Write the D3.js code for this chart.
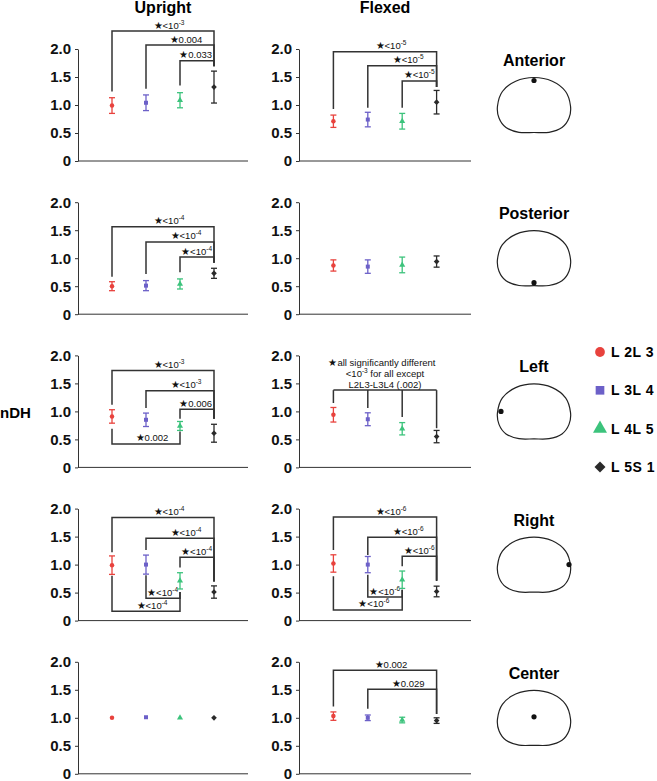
<!doctype html>
<html lang="en">
<head>
<meta charset="utf-8">
<title>nDH by level</title>
<script src="https://cdn.jsdelivr.net/npm/d3@7/dist/d3.min.js"></script>
<style>
  body { margin: 0; background: #fff; }
  svg { font-family: "Liberation Sans", Arial, Helvetica, sans-serif; }
  .tick text { font-size: 15px; font-weight: bold; fill: #111; }
  .axis path, .axis line { stroke: #333; }
  .bracket { fill: none; stroke: #333; stroke-width: 1.5px; }
  .note { font-size: 9.5px; fill: #111; }
</style>
</head>
<body>
<svg width="657" height="781"></svg>
<script>
// levels, colours, panels
var levels = ["L 2L 3", "L 3L 4", "L 4L 5", "L 5S 1"];
var colors = ["#e8423d", "#6c60c8", "#3cc37c", "#2a2a2a"];
var conditions = ["Upright", "Flexed"];
var regions = ["Anterior", "Posterior", "Left", "Right", "Center"];
var yTicks = [0, 0.5, 1.0, 1.5, 2.0];

// means / error bars, one row per region
var uprightMeans = [
    [0.99, 1.04, 1.085, 1.32],
    [0.50, 0.51, 0.54, 0.73],
    [0.91, 0.85, 0.74, 0.61],
    [0.99, 1.00, 0.71, 0.51],
    [1.00, 1.01, 1.00, 1.00]
];
var uprightErrors = [
    [0.14, 0.14, 0.135, 0.285],
    [0.08, 0.09, 0.09, 0.09],
    [0.12, 0.12, 0.08, 0.16],
    [0.165, 0.17, 0.145, 0.11],
    [0, 0, 0, 0]
];
var flexedMeans = [
    [0.71, 0.74, 0.71, 1.05],
    [0.87, 0.85, 0.88, 0.94],
    [0.94, 0.86, 0.69, 0.55],
    [1.02, 1.00, 0.73, 0.52],
    [1.03, 1.00, 0.96, 0.95]
];
var flexedErrors = [
    [0.11, 0.13, 0.14, 0.21],
    [0.10, 0.12, 0.14, 0.10],
    [0.13, 0.115, 0.11, 0.11],
    [0.155, 0.145, 0.155, 0.095],
    [0.075, 0.05, 0.05, 0.05]
];

// significance brackets: a/b = levels joined, at = bar height, da/db = where the legs stop
var uprightBrackets = [
    [{a: 0, b: 3, at: 2.32, da: 1.24, db: 1.69, p: "<10", e: "-3"},
     {a: 1, b: 3, at: 2.07, da: 1.29, db: 1.69, p: "0.004"},
     {a: 2, b: 3, at: 1.79, da: 1.35, db: 1.69, p: "0.033"}],
    [{a: 0, b: 3, at: 1.56, da: 0.67, db: 0.92, p: "<10", e: "-4"},
     {a: 1, b: 3, at: 1.29, da: 0.72, db: 0.92, p: "<10", e: "-4"},
     {a: 2, b: 3, at: 1.02, da: 0.75, db: 0.92, p: "<10", e: "-4"}],
    [{a: 0, b: 3, at: 1.73, da: 1.12, db: 0.87, p: "<10", e: "-3"},
     {a: 1, b: 3, at: 1.37, da: 1.06, db: 0.87, p: "<10", e: "-3"},
     {a: 2, b: 3, at: 1.04, da: 0.87, db: 0.87, p: "0.006"},
     {a: 0, b: 2, at: 0.42, da: 0.69, db: 0.64, p: "0.002"}],
    [{a: 0, b: 3, at: 1.84, da: 1.22, db: 0.70, p: "<10", e: "-4"},
     {a: 1, b: 3, at: 1.47, da: 1.26, db: 0.70, p: "<10", e: "-4"},
     {a: 2, b: 3, at: 1.13, da: 0.95, db: 0.70, p: "<10", e: "-4"},
     {a: 1, b: 2, at: 0.40, da: 0.81, db: 0.51, p: "<10", e: "-4"},
     {a: 0, b: 2, at: 0.165, da: 0.80, db: 0.51, p: "<10", e: "-4"}],
    []
];
var flexedBrackets = [
    [{a: 0, b: 3, at: 1.95, da: 0.93, db: 1.32, p: "<10", e: "-5"},
     {a: 1, b: 3, at: 1.70, da: 0.95, db: 1.32, p: "<10", e: "-5"},
     {a: 2, b: 3, at: 1.43, da: 0.95, db: 1.32, p: "<10", e: "-5"}],
    [],
    [],
    [{a: 0, b: 3, at: 1.85, da: 1.26, db: 0.71, p: "<10", e: "-6"},
     {a: 1, b: 3, at: 1.49, da: 1.17, db: 0.71, p: "<10", e: "-6"},
     {a: 2, b: 3, at: 1.15, da: 0.97, db: 0.71, p: "<10", e: "-6"},
     {a: 1, b: 2, at: 0.42, da: 0.82, db: 0.55, p: "<10", e: "-6"},
     {a: 0, b: 2, at: 0.19, da: 0.79, db: 0.55, p: "<10", e: "-6"}],
    [{a: 0, b: 3, at: 1.85, da: 1.20, db: 1.07, p: "0.002"},
     {a: 1, b: 3, at: 1.51, da: 1.16, db: 1.07, p: "0.029"}]
];
// flexed / left: one comb joining all four
var combAt = 1.38;
var combDrops = [1.15, 1.06, 0.90, 0.70];
var combNote = ["all significantly different", "<10", "-3", " for all except", "L2L3-L3L4 (.002)"];

var svg = d3.select("svg");

// circle, square, triangle, diamond (square turned 45deg)
var symbols = [d3.symbolCircle, d3.symbolSquare, d3.symbolTriangle, d3.symbolSquare];
var symRot = [0, 0, 0, 45];

var rowTop = function(r) { return 49 + r * 153.2; };
var plotH = 112;
var panelX = [78, 299], panelW = [170, 172];

function starText(g, x, y, p, e) {
    var t = g.append("text")
        .attr("class", "note")
        .attr("x", x).attr("y", y)
        .attr("text-anchor", "middle");
    t.append("tspan").attr("font-size", "10px").text("\u2605");
    t.append("tspan").text(p);
    if (e) t.append("tspan").attr("dy", -4).attr("font-size", "6.5px").text(e);
    return t;
}

function drawPanel(r, c) {
    var means = c == 0 ? uprightMeans[r] : flexedMeans[r];
    var errs = c == 0 ? uprightErrors[r] : flexedErrors[r];
    var brackets = c == 0 ? uprightBrackets[r] : flexedBrackets[r];
    var x0 = panelX[c], w = panelW[c], top = rowTop(r);

    var x = d3.scalePoint().domain(levels).range([x0, x0 + w]).padding(1);
    var y = d3.scaleLinear().domain([0, 2]).range([top + plotH, top]);

    var g = svg.append("g");

    g.append("g")
        .attr("class", "axis")
        .attr("transform", "translate(" + x0 + ",0)")
        .call(d3.axisLeft(y)
            .tickValues(yTicks)
            .tickSize(3)
            .tickSizeOuter(0)
            .tickPadding(4)
            .tickFormat(function(d) { return d == 0 ? "0" : d3.format(".1f")(d); }));

    g.append("line")
        .attr("x1", x0).attr("x2", x0 + w)
        .attr("y1", y(0)).attr("y2", y(0))
        .attr("stroke", "#333");

    // brackets
    brackets.forEach(function(b) {
        var xa = x(levels[b.a]), xb = x(levels[b.b]);
        g.append("path")
            .attr("class", "bracket")
            .attr("d", "M" + xa + "," + y(b.da) + "V" + y(b.at) + "H" + xb + "V" + y(b.db));
        var t = starText(g, (xa + xb) / 2 + 6, y(b.at) - 2.5, b.p, b.e);
        var len = t.node().getComputedTextLength();
        var cx = Math.min((xa + xb) / 2 + 6, xb - 2 - len / 2);
        t.attr("x", cx);
    });

    if (c == 1 && r == 2) {
        var xs = levels.map(function(l) { return x(l); });
        g.append("path")
            .attr("class", "bracket")
            .attr("d", "M" + xs[0] + "," + y(combAt) + "H" + xs[3]);
        combDrops.forEach(function(d, i) {
            g.append("line").attr("class", "bracket")
                .attr("x1", xs[i]).attr("x2", xs[i])
                .attr("y1", y(combAt)).attr("y2", y(d));
        });
        var cx = (xs[0] + xs[3]) / 2;
        var by = y(combAt);
        var t1 = g.append("text").attr("class", "note").attr("text-anchor", "middle")
            .attr("x", cx - 3).attr("y", by - 24);
        t1.append("tspan").attr("font-size", "10px").text("\u2605");
        t1.append("tspan").text(combNote[0]);
        var t2 = g.append("text").attr("class", "note").attr("text-anchor", "middle")
            .attr("x", cx).attr("y", by - 13);
        t2.append("tspan").text(combNote[1]);
        t2.append("tspan").attr("dy", -4).attr("font-size", "6.5px").text(combNote[2]);
        t2.append("tspan").attr("dy", 4).text(combNote[3]);
        g.append("text").attr("class", "note").attr("text-anchor", "middle")
            .attr("x", cx).attr("y", by - 2.5).text(combNote[4]);
    }

    // error bars + markers
    var pts = g.selectAll(".pt")
        .data(levels.map(function(l, i) { return {lev: l, i: i, m: means[i], e: errs[i]}; }))
        .enter().append("g")
        .attr("class", "pt");

    pts.filter(function(d) { return d.e > 0; }).each(function(d) {
        var s = d3.select(this), xc = x(d.lev), col = colors[d.i];
        s.append("line").attr("x1", xc).attr("x2", xc)
            .attr("y1", y(d.m - d.e)).attr("y2", y(d.m + d.e))
            .attr("stroke", col).attr("stroke-width", 1.3);
        [d.m - d.e, d.m + d.e].forEach(function(v) {
            s.append("line").attr("x1", xc - 3).attr("x2", xc + 3)
                .attr("y1", y(v)).attr("y2", y(v))
                .attr("stroke", col).attr("stroke-width", 1.3);
        });
    });

    pts.append("path")
        .attr("transform", function(d) {
            return "translate(" + x(d.lev) + "," + y(d.m) + ") rotate(" + symRot[d.i] + ")";
        })
        .attr("d", function(d) { return d3.symbol().type(symbols[d.i]).size(16)(); })
        .attr("fill", function(d) { return colors[d.i]; });
}

for (var r = 0; r < regions.length; r++) {
    drawPanel(r, 0);
    drawPanel(r, 1);
}

// column titles
svg.selectAll(".ctitle")
    .data(conditions)
    .enter().append("text")
    .attr("x", function(d, i) { return panelX[i] + panelW[i] / 2; })
    .attr("y", 13)
    .attr("text-anchor", "middle")
    .attr("font-size", "16px")
    .attr("font-weight", "bold")
    .text(function(d) { return d; });

svg.append("text")
    .attr("x", 0).attr("y", 418)
    .attr("font-size", "15px")
    .attr("font-weight", "bold")
    .text("nDH");

// vertebra outlines with the measurement spot
var outline = [[0, -27.5], [18.3, -23.8], [31.6, -13.5], [36.5, 1], [35, 13], [28, 22.5], [15, 27.3],
    [0, 27.5], [-15, 27.3], [-28, 22.5], [-35, 13], [-36.5, 1], [-31.6, -13.5], [-18.3, -23.8]];
var spots = [[0, -24.5], [0, 24.5], [-33, 0], [35, 0], [0, -1]];
var shapeLine = d3.line().curve(d3.curveCardinalClosed.tension(0));

regions.forEach(function(name, i) {
    var cx = 534, top = rowTop(i);
    svg.append("text")
        .attr("x", cx).attr("y", top + 17)
        .attr("text-anchor", "middle")
        .attr("font-size", "16px")
        .attr("font-weight", "bold")
        .text(name);
    var sg = svg.append("g").attr("transform", "translate(" + cx + "," + (top + 56) + ")");
    sg.append("path")
        .attr("d", shapeLine(outline))
        .attr("fill", "none")
        .attr("stroke", "#222")
        .attr("stroke-width", 1.2);
    sg.append("circle")
        .attr("cx", spots[i][0]).attr("cy", spots[i][1])
        .attr("r", 2.6)
        .attr("fill", "#111");
});

// legend
var legend = svg.selectAll(".leg")
    .data(levels)
    .enter().append("g")
    .attr("transform", function(d, i) { return "translate(600," + (352 + i * 38.3) + ")"; });

legend.append("path")
    .attr("transform", function(d, i) { return "rotate(" + symRot[i] + ")"; })
    .attr("d", function(d, i) { return d3.symbol().type(symbols[i]).size(i == 2 ? 85 : (i == 3 ? 60 : 75))(); })
    .attr("fill", function(d, i) { return colors[i]; });

legend.append("text")
    .attr("x", 11)
    .attr("dy", "0.36em")
    .attr("font-size", "14px")
    .attr("font-weight", "bold")
    .attr("letter-spacing", "0.5px")
    .text(function(d) { return d; });
</script>
</body>
</html>
